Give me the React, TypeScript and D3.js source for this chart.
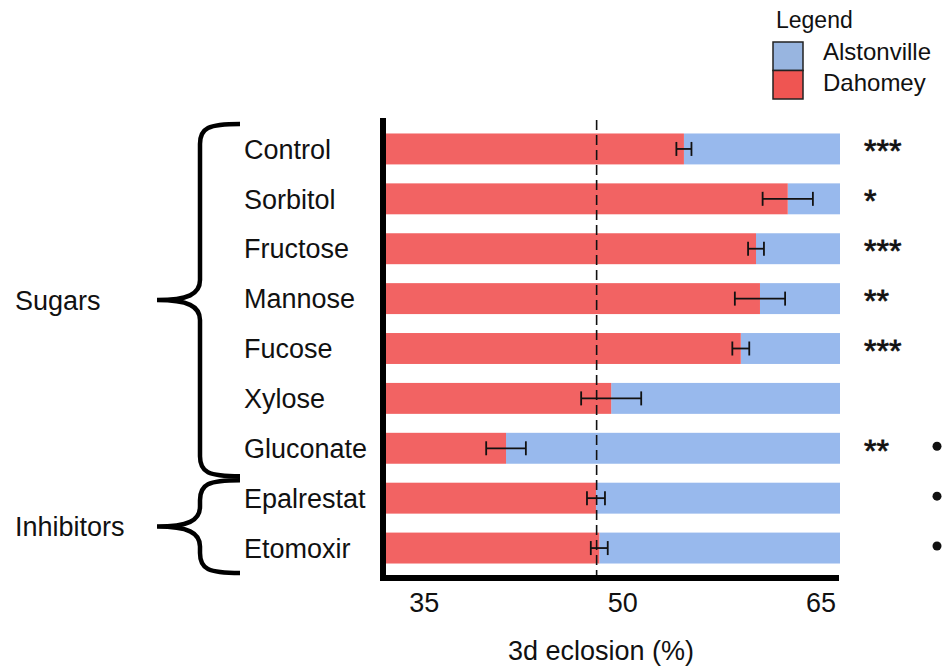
import * as d3 from "d3";
import React, { useEffect, useRef } from "react";

const categories = [
  "Control",
  "Sorbitol",
  "Fructose",
  "Mannose",
  "Fucose",
  "Xylose",
  "Gluconate",
  "Epalrestat",
  "Etomoxir",
];
// Dahomey share of 3d eclosion (%), rest of the bar is Alstonville
const dahomey = [56.6, 64.45, 62.05, 62.35, 60.9, 51.1, 43.15, 49.95, 50.2];
const errors = [0.57, 1.9, 0.6, 1.9, 0.64, 2.27, 1.5, 0.68, 0.64];
const stars = ["***", "*", "***", "**", "***", "", "**", "", ""];
const dots = [false, false, false, false, false, false, true, true, true];
const groups = [
  { name: "Sugars", from: "Control", to: "Gluconate" },
  { name: "Inhibitors", from: "Epalrestat", to: "Etomoxir" },
];
const xTicks = [35, 50, 65];
const xDomain = [34, 68.4];
const midline = 50;
const legendItems = [
  { label: "Alstonville", color: "#98b5e0" },
  { label: "Dahomey", color: "#ef5552" },
];

const RED = "#f26363";
const BLUE = "#98b9ed";
const FONT = "'Liberation Sans', Arial, Helvetica, sans-serif";

const App: React.FC = () => {
  const ref = useRef<SVGSVGElement | null>(null);

  useEffect(() => {
    document.body.style.margin = "0";
    const width = 945;
    const height = 668;

    const x = d3.scaleLinear().domain(xDomain).range([385, 840]);
    const y = d3
      .scaleBand<string>()
      .domain(categories)
      .range([124, 573])
      .paddingInner(0.38)
      .paddingOuter(0.19);
    const bw = y.bandwidth();
    const cy = (c: string) => (y(c) as number) + bw / 2;

    const svg = d3
      .select(ref.current)
      .attr("width", width)
      .attr("height", height)
      .style("font-family", FONT)
      .html("");

    const rows = categories.map((c, i) => ({
      c,
      v: dahomey[i],
      e: errors[i],
      s: stars[i],
      dot: dots[i],
    }));

    // Alstonville (background part of the bar)
    svg
      .append("g")
      .selectAll("rect")
      .data(rows)
      .join("rect")
      .attr("x", (d) => x(d.v))
      .attr("y", (d) => y(d.c) as number)
      .attr("width", (d) => x(xDomain[1]) - x(d.v))
      .attr("height", bw)
      .attr("fill", BLUE);

    // Dahomey
    svg
      .append("g")
      .selectAll("rect")
      .data(rows)
      .join("rect")
      .attr("x", x(xDomain[0]))
      .attr("y", (d) => y(d.c) as number)
      .attr("width", (d) => x(d.v) - x(xDomain[0]))
      .attr("height", bw)
      .attr("fill", RED);

    // dashed 50% line
    svg
      .append("line")
      .attr("x1", x(midline))
      .attr("x2", x(midline))
      .attr("y1", 120)
      .attr("y2", 578)
      .attr("stroke", "#111")
      .attr("stroke-width", 1.6)
      .attr("stroke-dasharray", "10,5");

    // error bars
    const eb = svg
      .append("g")
      .attr("stroke", "#111")
      .attr("stroke-width", 1.8)
      .selectAll("g")
      .data(rows)
      .join("g");
    eb.append("line")
      .attr("x1", (d) => x(d.v - d.e))
      .attr("x2", (d) => x(d.v + d.e))
      .attr("y1", (d) => cy(d.c))
      .attr("y2", (d) => cy(d.c));
    [-1, 1].forEach((s) => {
      eb.append("line")
        .attr("x1", (d) => x(d.v + s * d.e))
        .attr("x2", (d) => x(d.v + s * d.e))
        .attr("y1", (d) => cy(d.c) - 7)
        .attr("y2", (d) => cy(d.c) + 7);
    });

    // axes
    svg
      .append("line")
      .attr("x1", 383)
      .attr("x2", 383)
      .attr("y1", 118)
      .attr("y2", 581)
      .attr("stroke", "#000")
      .attr("stroke-width", 6);
    svg
      .append("line")
      .attr("x1", 380)
      .attr("x2", x(xDomain[1]) - 1)
      .attr("y1", 578)
      .attr("y2", 578)
      .attr("stroke", "#000")
      .attr("stroke-width", 6);

    svg
      .append("g")
      .selectAll("text")
      .data(xTicks)
      .join("text")
      .attr("x", (d) => x(d) + 11)
      .attr("y", 612)
      .attr("font-size", 27)
      .attr("fill", "#111")
      .text((d) => d);

    svg
      .append("text")
      .attr("x", 601)
      .attr("y", 660)
      .attr("text-anchor", "middle")
      .attr("font-size", 27)
      .attr("fill", "#111")
      .text("3d eclosion (%)");

    // category labels
    svg
      .append("g")
      .selectAll("text")
      .data(rows)
      .join("text")
      .attr("x", 244)
      .attr("y", (d) => cy(d.c))
      .attr("dy", "0.36em")
      .attr("font-size", 27)
      .attr("fill", "#111")
      .text((d) => d.c);

    // significance stars
    svg
      .append("g")
      .selectAll("text")
      .data(rows.filter((d) => d.s))
      .join("text")
      .attr("x", 864)
      .attr("y", (d) => cy(d.c))
      .attr("dy", "0.42em")
      .attr("font-size", 32)
      .attr("fill", "#111")
      .attr("stroke", "#111")
      .attr("stroke-width", 0.8)
      .text((d) => d.s);

    svg
      .append("g")
      .selectAll("circle")
      .data(rows.filter((d) => d.dot))
      .join("circle")
      .attr("cx", 937)
      .attr("cy", (d) => cy(d.c) - 2)
      .attr("r", 4.5)
      .attr("fill", "#111");

    // group braces
    const brace = (y0: number, y1: number) => {
      const xr = 240;
      const xs = 200;
      const xt = 157;
      const ym = (y0 + y1) / 2;
      const r = 20;
      return (
        `M${xr},${y0} C${xs + 8},${y0} ${xs},${y0 + 4} ${xs},${y0 + r}` +
        ` L${xs},${ym - r} C${xs},${ym - 6} ${xs - 12},${ym} ${xt},${ym}` +
        ` C${xs - 12},${ym} ${xs},${ym + 6} ${xs},${ym + r}` +
        ` L${xs},${y1 - r} C${xs},${y1 - 4} ${xs + 8},${y1} ${xr},${y1}`
      );
    };
    const g = svg.append("g");
    groups.forEach((gr, i) => {
      const y0 = (y(gr.from) as number) - y.step() * 0.19 + (i === 0 ? 0 : 7);
      const y1 = (y(gr.to) as number) + bw + y.step() * 0.19 + (i === 0 ? 3 : 0);
      g.append("path")
        .attr("d", brace(y0, y1))
        .attr("fill", "none")
        .attr("stroke", "#000")
        .attr("stroke-width", 4.5);
      g.append("text")
        .attr("x", 15)
        .attr("y", (y0 + y1) / 2)
        .attr("dy", "0.36em")
        .attr("font-size", 27)
        .attr("fill", "#111")
        .text(gr.name);
    });

    // legend
    const lg = svg.append("g");
    lg.append("text")
      .attr("x", 776)
      .attr("y", 28)
      .attr("font-size", 23)
      .attr("fill", "#111")
      .text("Legend");
    legendItems.forEach((it, i) => {
      lg.append("rect")
        .attr("x", 773)
        .attr("y", 42 + i * 28.5)
        .attr("width", 30)
        .attr("height", 28.5)
        .attr("fill", it.color)
        .attr("stroke", "#222")
        .attr("stroke-width", 1.5);
      lg.append("text")
        .attr("x", 823)
        .attr("y", 60 + i * 31)
        .attr("font-size", 24)
        .attr("fill", "#111")
        .text(it.label);
    });
  }, []);

  return <svg ref={ref} style={{ display: "block" }}></svg>;
};

export default App;
